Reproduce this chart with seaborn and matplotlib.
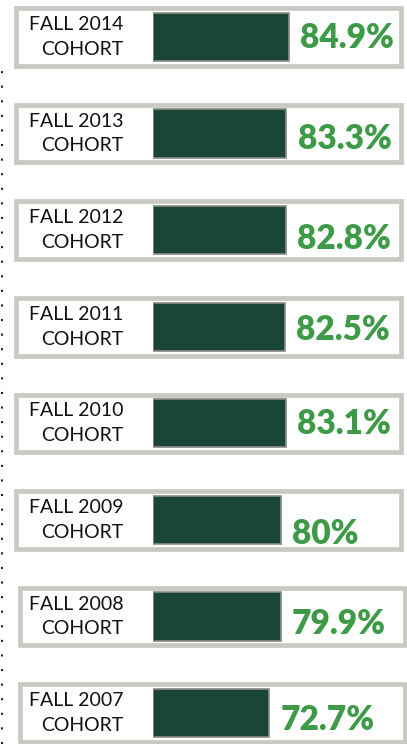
import matplotlib
matplotlib.use("Agg")
import matplotlib.pyplot as plt
import matplotlib.transforms as mtransforms
from matplotlib.patches import Rectangle
from matplotlib.lines import Line2D
import seaborn as sns
import pandas as pd

cohorts = ["FALL 2014", "FALL 2013", "FALL 2012", "FALL 2011",
           "FALL 2010", "FALL 2009", "FALL 2008", "FALL 2007"]
rates = [84.9, 83.3, 82.8, 82.5, 83.1, 80.0, 79.9, 72.7]

# small layout nudges (pixels) for the value labels, and box shift of the last rows
label_drop = [11, 15, 19, 13, 11, 24, 17, 17]
box_shift = [0, 0, 0, 0, 0, 0, 4, 4]

bar_color = "#1a4735"
pct_color = "#3d9a47"
box_edge = "#c9c9c3"

W, H, DPI = 407, 744, 100
sns.set_style("white")
plt.rcParams["font.family"] = ["Lato", "DejaVu Sans"]

fig = plt.figure(figsize=(W / DPI, H / DPI), dpi=DPI)
fig.patch.set_facecolor("white")
ax = fig.add_axes([153 / W, 0, 1 - 153 / W, 1])
ax.patch.set_alpha(0)

df = pd.DataFrame({"cohort": [c + "\nCOHORT" for c in cohorts], "rate": rates})
sns.barplot(data=df, x="rate", y="cohort", orient="h", color=bar_color,
            saturation=1, width=0.5, errorbar=None, edgecolor="#8a8a8a",
            linewidth=1.2, ax=ax, zorder=3)

# white boxes with grey frame behind every row
tr = mtransforms.blended_transform_factory(fig.transFigure, ax.transData)
for i in range(len(cohorts)):
    x0 = (15.5 + box_shift[i]) / W
    x1 = (401 + box_shift[i]) / W
    ax.add_patch(Rectangle((x0, i - 0.297), x1 - x0, 0.595, transform=tr,
                           facecolor="white", edgecolor=box_edge, lw=3.4,
                           zorder=0, clip_on=False))

for i, v in enumerate(rates):
    ax.annotate(f"{v:g}%", xy=(v, i), xytext=(8, -label_drop[i] * 0.72),
                textcoords="offset points", ha="left", va="baseline",
                fontsize=24, fontweight="heavy", color=pct_color, zorder=4)

ax.set_xlim(0, 158.6)
ax.set_ylim(7.32, -0.383)
ax.set_yticks(range(len(cohorts)), labels=df["cohort"], va="center",
              linespacing=1.55)
ax.tick_params(axis="y", length=0, pad=21, labelsize=14, labelcolor="#111111")
ax.xaxis.set_visible(False)
ax.set_ylabel("")
sns.despine(ax=ax, left=True, bottom=True)

# dotted guide on the far left
fig.add_artist(Line2D([2 / W, 2 / W], [0, 1 - 70 / H], transform=fig.transFigure,
                      color="#222222", lw=1.5, ls=(0, (1, 6))))

fig.savefig("out.png", dpi=DPI)
